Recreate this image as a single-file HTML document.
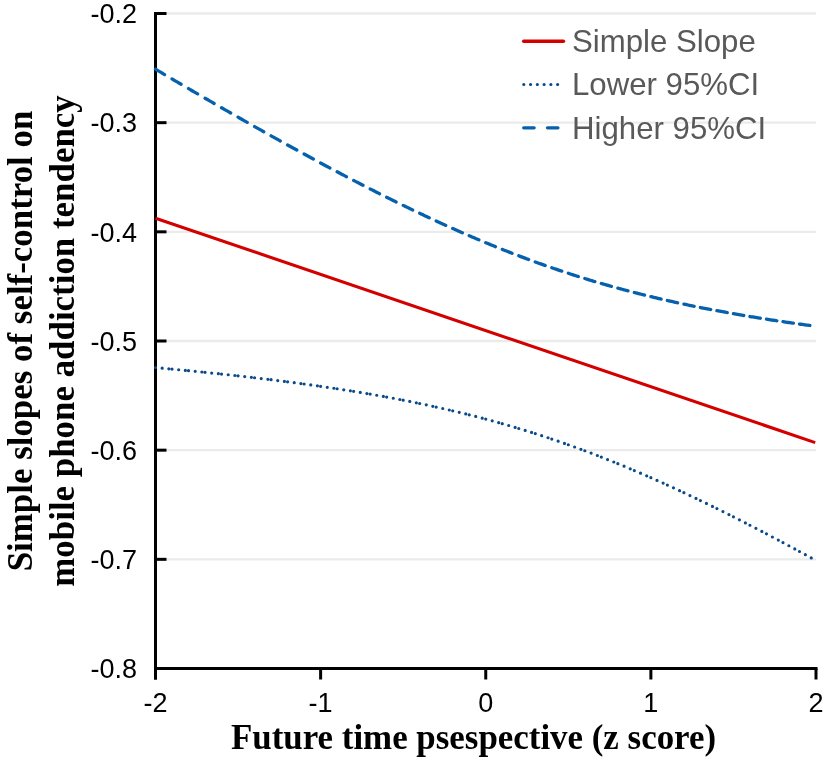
<!DOCTYPE html>
<html><head><meta charset="utf-8"><style>
html,body{margin:0;padding:0;background:#fff;}
svg{display:block;will-change:transform;}
.sans{font-family:"Liberation Sans",sans-serif;}
.serif{font-family:"Liberation Serif",serif;font-weight:bold;}
</style></head><body>
<svg width="827" height="766" viewBox="0 0 827 766">
<rect width="827" height="766" fill="#fff"/>
<g stroke="#ebebeb" stroke-width="2.4"><line x1="157" y1="13.50" x2="816" y2="13.50"/><line x1="157" y1="122.67" x2="816" y2="122.67"/><line x1="157" y1="231.83" x2="816" y2="231.83"/><line x1="157" y1="341.00" x2="816" y2="341.00"/><line x1="157" y1="450.17" x2="816" y2="450.17"/><line x1="157" y1="559.33" x2="816" y2="559.33"/></g>
<g stroke="#000" stroke-width="3" fill="none">
<line x1="155.5" y1="12" x2="155.5" y2="679.5"/>
<line x1="154" y1="668.5" x2="817.5" y2="668.5"/>
<line x1="155.5" y1="13.50" x2="166.5" y2="13.50"/><line x1="155.5" y1="122.67" x2="166.5" y2="122.67"/><line x1="155.5" y1="231.83" x2="166.5" y2="231.83"/><line x1="155.5" y1="341.00" x2="166.5" y2="341.00"/><line x1="155.5" y1="450.17" x2="166.5" y2="450.17"/><line x1="155.5" y1="559.33" x2="166.5" y2="559.33"/><line x1="155.5" y1="668.50" x2="166.5" y2="668.50"/><line x1="155.50" y1="668.5" x2="155.50" y2="679.5"/><line x1="320.62" y1="668.5" x2="320.62" y2="679.5"/><line x1="485.75" y1="668.5" x2="485.75" y2="679.5"/><line x1="650.88" y1="668.5" x2="650.88" y2="679.5"/><line x1="816.00" y1="668.5" x2="816.00" y2="679.5"/>
</g>
<path d="M155.50,69.20 156.88,70.01 158.25,70.82 159.63,71.64 161.00,72.45 162.38,73.26 163.76,74.07 164.54,74.54M172.01,78.93 173.39,79.74 174.76,80.55 176.14,81.36 177.52,82.16 178.89,82.97 180.27,83.77 181.07,84.24M188.52,88.60 189.90,89.41 191.28,90.21 192.65,91.01 194.03,91.81 195.41,92.61 196.78,93.41 197.60,93.89M205.04,98.21 206.41,99.01 207.79,99.80 209.17,100.60 210.54,101.39 211.92,102.19 213.29,102.98 214.13,103.46M221.55,107.74 222.93,108.53 224.30,109.32 225.68,110.11 227.05,110.90 228.43,111.69 229.81,112.48 230.66,112.96M238.06,117.19 239.44,117.98 240.81,118.76 242.19,119.54 243.57,120.33 244.94,121.11 246.32,121.89 247.19,122.38M254.58,126.56 255.95,127.34 257.33,128.11 258.70,128.89 260.08,129.66 261.46,130.43 262.83,131.21 263.73,131.71M271.09,135.83 272.46,136.60 273.84,137.37 275.22,138.13 276.59,138.90 277.97,139.66 279.34,140.43 280.26,140.94M287.60,145.00 288.98,145.76 290.35,146.52 291.73,147.28 293.10,148.03 294.48,148.79 295.86,149.54 296.80,150.06M304.11,154.06 305.49,154.81 306.86,155.55 308.24,156.30 309.62,157.05 310.99,157.79 312.37,158.54 313.34,159.06M320.62,162.99 322.00,163.73 323.38,164.46 324.75,165.20 326.13,165.94 327.51,166.67 328.88,167.41 329.88,167.94M337.14,171.79 338.51,172.51 339.89,173.24 341.27,173.96 342.64,174.69 344.02,175.41 345.39,176.13 346.43,176.67M353.65,180.44 355.03,181.15 356.40,181.87 357.78,182.58 359.15,183.29 360.53,184.00 361.91,184.71 362.98,185.26M370.16,188.93 371.54,189.63 372.91,190.33 374.29,191.03 375.67,191.72 377.04,192.42 378.42,193.11 379.53,193.67M386.67,197.25 388.05,197.93 389.43,198.62 390.80,199.30 392.18,199.98 393.56,200.66 394.93,201.34 396.09,201.91M403.19,205.38 404.56,206.05 405.94,206.72 407.32,207.38 408.69,208.05 410.07,208.71 411.44,209.37 412.64,209.95M419.70,213.31 421.08,213.96 422.45,214.61 423.83,215.26 425.20,215.90 426.58,216.55 427.96,217.19 429.20,217.77M436.21,221.02 437.59,221.65 438.96,222.28 440.34,222.91 441.72,223.54 443.09,224.17 444.47,224.79 445.77,225.38M452.73,228.50 454.10,229.11 455.48,229.72 456.85,230.33 458.23,230.94 459.61,231.54 460.98,232.15 462.33,232.74M469.24,235.73 470.61,236.32 471.99,236.91 473.37,237.50 474.74,238.08 476.12,238.67 477.49,239.25 478.87,239.83 478.90,239.84M485.75,242.70 487.13,243.27 488.50,243.84 489.88,244.40 491.25,244.97 492.63,245.53 494.01,246.09 495.38,246.64 495.47,246.68M502.26,249.40 503.64,249.95 505.01,250.49 506.39,251.03 507.77,251.57 509.14,252.11 510.52,252.64 511.89,253.18 512.04,253.23M518.78,255.82 520.15,256.34 521.53,256.86 522.90,257.37 524.28,257.89 525.66,258.40 527.03,258.92 528.41,259.42 528.61,259.50M535.29,261.94 536.66,262.44 538.04,262.93 539.42,263.43 540.79,263.92 542.17,264.41 543.54,264.89 544.92,265.38 545.18,265.47M551.80,267.77 553.18,268.24 554.55,268.71 555.93,269.18 557.30,269.65 558.68,270.11 560.06,270.57 561.43,271.03 561.75,271.14M568.31,273.30 569.69,273.75 571.06,274.20 572.44,274.64 573.82,275.08 575.19,275.52 576.57,275.96 577.94,276.39 578.31,276.51M584.83,278.54 586.20,278.96 587.58,279.38 588.95,279.80 590.33,280.22 591.71,280.63 593.08,281.05 594.46,281.46 594.87,281.58M601.34,283.48 602.71,283.88 604.09,284.28 605.47,284.67 606.84,285.06 608.22,285.45 609.59,285.84 610.97,286.23 611.43,286.36M617.85,288.14 619.23,288.51 620.60,288.89 621.98,289.26 623.35,289.63 624.73,289.99 626.11,290.36 627.48,290.72 627.99,290.86M634.36,292.52 635.74,292.87 637.11,293.22 638.49,293.57 639.87,293.92 641.24,294.26 642.62,294.61 643.99,294.95 644.54,295.08M650.88,296.63 652.25,296.96 653.63,297.29 655.00,297.62 656.38,297.95 657.76,298.27 659.13,298.59 660.51,298.91 661.09,299.05M667.39,300.49 668.76,300.81 670.14,301.11 671.52,301.42 672.89,301.73 674.27,302.03 675.64,302.34 677.02,302.64 677.64,302.77M683.90,304.12 685.28,304.41 686.65,304.70 688.03,304.99 689.40,305.28 690.78,305.56 692.16,305.85 693.53,306.13 694.18,306.26M700.41,307.52 701.79,307.79 703.16,308.07 704.54,308.34 705.92,308.61 707.29,308.87 708.67,309.14 710.04,309.41 710.72,309.54M716.92,310.71 718.30,310.97 719.68,311.23 721.05,311.48 722.43,311.73 723.81,311.99 725.18,312.24 726.56,312.49 727.25,312.61M733.44,313.71 734.81,313.95 736.19,314.20 737.57,314.43 738.94,314.67 740.32,314.91 741.69,315.15 743.07,315.38 743.78,315.50M749.95,316.53 751.33,316.76 752.70,316.99 754.08,317.21 755.45,317.44 756.83,317.66 758.21,317.88 759.58,318.10 760.31,318.22M766.46,319.19 767.84,319.41 769.21,319.62 770.59,319.83 771.97,320.04 773.34,320.25 774.72,320.46 776.09,320.67 776.84,320.78M782.98,321.70 784.35,321.90 785.73,322.10 787.10,322.30 788.48,322.50 789.86,322.70 791.23,322.90 792.61,323.09 793.37,323.20M799.49,324.06 800.86,324.25 802.24,324.44 803.62,324.63 804.99,324.82 806.37,325.01 807.74,325.20 809.12,325.38 809.89,325.49" fill="none" stroke="#0560ad" stroke-width="3.3" stroke-linecap="round" stroke-linejoin="round"/>
<path d="M155.50,367.60h0M162.17,368.21h0M168.84,368.82h0M172.01,369.12h0M178.68,369.75h0M185.35,370.39h0M188.52,370.70h0M195.19,371.35h0M201.86,372.02h0M205.04,372.34h0M211.70,373.03h0M218.37,373.72h0M221.55,374.06h0M228.21,374.77h0M234.87,375.50h0M238.06,375.86h0M244.72,376.61h0M251.38,377.37h0M254.58,377.74h0M261.23,378.53h0M267.88,379.33h0M271.09,379.72h0M277.74,380.54h0M284.38,381.39h0M287.60,381.80h0M294.24,382.67h0M300.88,383.56h0M304.11,383.99h0M310.75,384.91h0M317.38,385.85h0M320.62,386.31h0M327.25,387.28h0M333.88,388.27h0M337.14,388.76h0M343.76,389.79h0M350.38,390.83h0M353.65,391.36h0M360.26,392.45h0M366.87,393.56h0M370.16,394.12h0M376.76,395.27h0M383.36,396.45h0M386.67,397.05h0M393.26,398.27h0M399.84,399.52h0M403.19,400.17h0M409.76,401.47h0M416.33,402.80h0M419.70,403.49h0M426.26,404.87h0M432.81,406.28h0M436.21,407.03h0M442.75,408.49h0M449.28,409.99h0M452.73,410.80h0M459.24,412.36h0M465.75,413.95h0M469.24,414.82h0M475.73,416.47h0M482.21,418.16h0M485.75,419.10h0M492.22,420.85h0M498.67,422.64h0M502.26,423.65h0M508.70,425.50h0M515.13,427.39h0M518.78,428.48h0M525.18,430.44h0M531.58,432.43h0M535.29,433.61h0M541.66,435.67h0M548.03,437.76h0M551.80,439.03h0M558.14,441.19h0M564.47,443.39h0M568.31,444.75h0M574.62,447.01h0M580.91,449.31h0M584.83,450.76h0M591.10,453.12h0M597.35,455.52h0M601.34,457.07h0M607.57,459.53h0M613.79,462.02h0M617.85,463.66h0M624.05,466.21h0M630.23,468.79h0M634.36,470.53h0M640.52,473.17h0M646.67,475.83h0M650.88,477.67h0M657.00,480.38h0M663.12,483.12h0M667.39,485.06h0M673.48,487.84h0M679.56,490.66h0M683.90,492.68h0M689.96,495.54h0M696.01,498.42h0M700.41,500.53h0M706.44,503.45h0M712.46,506.39h0M716.92,508.59h0M722.93,511.56h0M728.92,514.56h0M733.44,516.84h0M739.41,519.87h0M745.38,522.92h0M749.95,525.27h0M755.90,528.34h0M761.84,531.44h0M766.46,533.86h0M772.39,536.98h0M778.31,540.12h0M782.98,542.60h0M788.88,545.77h0M794.78,548.94h0M799.49,551.49h0M805.37,554.69h0M811.26,557.90h0" fill="none" stroke="#0a4a88" stroke-width="3.2" stroke-linecap="round"/>
<line x1="155.5" y1="218.2" x2="815.2" y2="442.6" stroke="#d40000" stroke-width="3.1"/>
<g class="sans" font-size="27" fill="#000" text-anchor="end"><text x="137" y="23.30">-0.2</text><text x="137" y="132.47">-0.3</text><text x="137" y="241.63">-0.4</text><text x="137" y="350.80">-0.5</text><text x="137" y="459.97">-0.6</text><text x="137" y="569.13">-0.7</text><text x="137" y="678.30">-0.8</text></g>
<g class="sans" font-size="27" fill="#000" text-anchor="middle"><text x="155.50" y="712">-2</text><text x="320.62" y="712">-1</text><text x="485.75" y="712">0</text><text x="650.88" y="712">1</text><text x="816.00" y="712">2</text></g>
<g class="sans" font-size="31.2" fill="#595959">
<text x="572" y="52.4">Simple Slope</text>
<text x="572" y="94.7">Lower 95%CI</text>
<text x="572" y="138.6">Higher 95%CI</text>
</g>
<line x1="523.7" y1="41.3" x2="563.5" y2="41.3" stroke="#d40000" stroke-width="3.4" stroke-linecap="round"/>
<line x1="523.8" y1="84.5" x2="558" y2="84.5" stroke="#0a4a88" stroke-width="3.2" stroke-dasharray="0 6.77" stroke-linecap="round"/>
<line x1="523.7" y1="127.8" x2="560" y2="127.8" stroke="#0560ad" stroke-width="3.3" stroke-dasharray="10.45 13.35" stroke-linecap="round"/>
<g class="serif" font-size="34.9" fill="#000" text-anchor="middle">
<text x="473.5" y="749">Future time psespective (z score)</text>
<text transform="translate(32,341) rotate(-90)">Simple slopes of self-control on</text>
<text transform="translate(73.5,341) rotate(-90)">mobile phone addiction tendency</text>
</g>
</svg>
</body></html>
